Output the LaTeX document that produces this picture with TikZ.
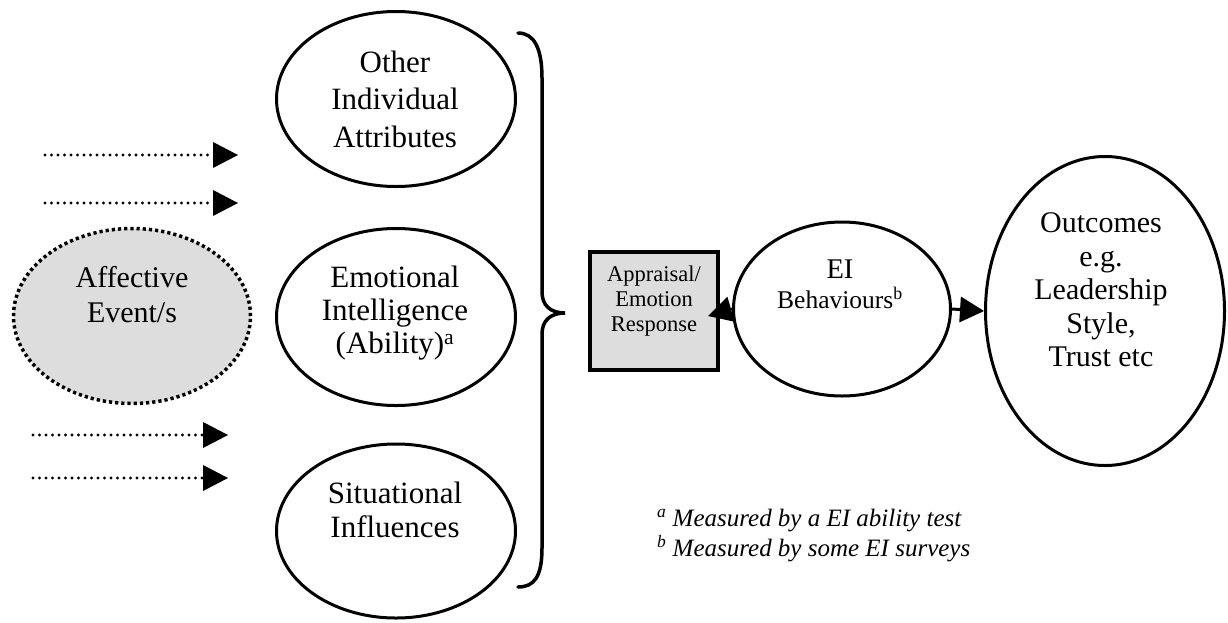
\documentclass[tikz,border=0pt]{standalone}
\usepackage{fontspec}
\setmainfont{Liberation Serif}
\usetikzlibrary{shapes.geometric,arrows.meta,calc}
\definecolor{boxgray}{HTML}{DDDDDD}
\definecolor{ink}{HTML}{000000}

\tikzset{
  bubble/.style={ellipse, draw=ink, line width=3pt, inner sep=0pt},
  bigtext/.style={align=center, text=ink, inner sep=0pt, font=\fontsize{30}{35}\selectfont},
  dotarrow/.style={draw=ink, line width=3.3pt, dash pattern=on 0pt off 6.5pt, line cap=round,
    -{Triangle[length=25pt,width=26pt,line width=0pt]}},
  solidarrow/.style={draw=ink, line width=3pt,
    -{Triangle[length=24pt,width=26pt,line width=0pt]}},
}

\begin{document}
\begin{tikzpicture}[x=1pt,y=-1pt]
\useasboundingbox (0,0) rectangle (1228,622);

% incoming dotted arrows
\coordinate (d1s) at (45,155);  \coordinate (d1e) at (238,155);
\coordinate (d2s) at (45,203);  \coordinate (d2e) at (238,203);
\coordinate (d3s) at (33,435);  \coordinate (d3e) at (228,435);
\coordinate (d4s) at (33,478);  \coordinate (d4e) at (228,478);
\draw[dotarrow] (d1s) -- (d1e);
\draw[dotarrow] (d2s) -- (d2e);
\draw[dotarrow] (d3s) -- (d3e);
\draw[dotarrow] (d4s) -- (d4e);

% affective event
\node[ellipse, draw=ink, fill=boxgray, line width=3.5pt, dash pattern=on 3.2pt off 3pt,
      minimum width=237pt, minimum height=175pt, inner sep=0pt] (aff) at (132,316) {};
\node[bigtext] (afftext) at (132,295) {Affective\\Event/s};

% individual and situational factors
\node[bubble, minimum width=239pt, minimum height=175pt] (other) at (396,99) {};
\node[bigtext, font=\fontsize{31}{37.5}\selectfont] (othertext) at (395,99) {Other\\Individual\\Attributes};

\node[bubble, minimum width=239pt, minimum height=177pt] (ei) at (396,317) {};
\node[bigtext, font=\fontsize{31}{33}\selectfont] (eitext) at (395,313) {Emotional\\Intelligence\\(Ability)\textsuperscript{a}};

\node[bubble, minimum width=239pt, minimum height=174pt] (sit) at (396,531) {};
\node[bigtext, font=\fontsize{31}{34}\selectfont] (sittext) at (395,510) {Situational\\Influences};

% grouping brace
\draw[draw=ink, line width=3.5pt, line cap=round]
  (518,33) .. controls (534,33) and (542,48) .. (542,78) -- (542,292)
  .. controls (542,305) and (550,313) .. (565,313)
  .. controls (550,313) and (542,321) .. (542,334) -- (542,548)
  .. controls (542,577) and (534,587) .. (518,587);

% appraisal box
\node[rectangle, draw=ink, fill=boxgray, line width=4pt,
      minimum width=128pt, minimum height=118pt, inner sep=0pt] (box) at (654,311) {};
\node[align=center, inner sep=0pt, text=ink, font=\fontsize{22.5}{25}\selectfont] (boxtext) at (654,301)
  {Appraisal/\\Emotion\\Response};

% EI behaviours
\node[bubble, minimum width=217pt, minimum height=174pt] (beh) at (842,309) {};
\node[align=center, inner sep=0pt, text=ink, font=\fontsize{25.5}{30}\selectfont] (behtext) at (840,284)
  {{\fontsize{28.5}{30}\selectfont EI}\\Behaviours\textsuperscript{b}};

% outcomes
\node[bubble, minimum width=239pt, minimum height=309pt] (out) at (1105,311) {};
\node[bigtext, font=\fontsize{30}{33.5}\selectfont] (outtext) at (1101,290)
  {Outcomes\\e.g.\\Leadership\\Style,\\Trust etc};

% solid connectors
\coordinate (boxtip) at (708,316);
\draw[solidarrow] (beh.west) -- (boxtip);
\draw[solidarrow] (beh.east) -- (out.west);

% footnotes
\node[anchor=west, align=left, inner sep=0pt, text=ink, font=\fontsize{25}{30}\selectfont\itshape] (notes) at (657,536)
  {\textsuperscript{a} Measured by a EI ability test\\\textsuperscript{b} Measured by some EI surveys};
\end{tikzpicture}
\end{document}
